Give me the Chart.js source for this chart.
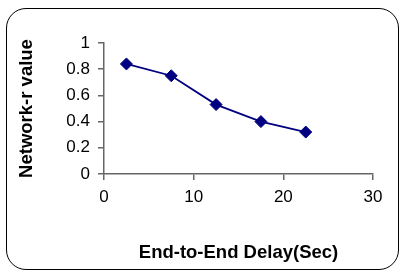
<!DOCTYPE html>
<html>
<head>
<meta charset="utf-8">
<script src="https://cdn.jsdelivr.net/npm/chart.js@4.4.1/dist/chart.umd.min.js"></script>
<style>
  html, body { margin: 0; padding: 0; background: #fff; }
  #wrap { position: relative; width: 401px; height: 273px; }
  #frame {
    position: absolute; left: 6px; top: 8px; width: 393px; height: 262px;
    border: 1.5px solid #000; border-radius: 20px; box-sizing: border-box;
  }
  #chart { position: absolute; left: 0; top: 0; }
</style>
</head>
<body>
<div id="wrap">
  <div id="frame"></div>
  <canvas id="chart" width="401" height="273"></canvas>
</div>
<script>
// values
const delay = [2.5, 7.5, 12.5, 17.5, 22.5];
const networkR = [0.84, 0.75, 0.53, 0.40, 0.32];
const xTickLabels = ['0', '10', '20', '30'];
const yTickLabels = ['0', '0.2', '0.4', '0.6', '0.8', '1'];

const axisGrey = '#666666';
const tickFont = { family: 'Liberation Sans, Arial, sans-serif', size: 17 };
const titleFont = { family: 'Liberation Sans, Arial, sans-serif', size: 18.5, weight: 'bold' };

new Chart(document.getElementById('chart'), {
    type: 'scatter',
    data: {
        datasets: [{
            label: 'Network-r',
            data: delay.map((d, i) => ({ x: d, y: networkR[i] })),
            showLine: true,
            borderColor: '#000080',
            backgroundColor: '#000080',
            borderWidth: 1.8,
            pointStyle: 'rectRot',
            pointRadius: 6,
            pointHoverRadius: 6,
            pointBorderWidth: 1
        }]
    },
    options: {
        responsive: false,
        animation: false,
        layout: { padding: { left: 0, top: 43, right: 28, bottom: 0 } },
        plugins: { legend: { display: false }, tooltip: { enabled: false } },
        scales: {
            x: {
                type: 'linear',
                min: 0,
                max: 30,
                afterFit: (scale) => { scale.height = 99; },
                border: { display: true, color: axisGrey, width: 1.5 },
                grid: { drawOnChartArea: false, drawTicks: true, tickLength: 6, color: axisGrey, lineWidth: 1.5 },
                ticks: {
                    stepSize: 10,
                    padding: 7,
                    color: '#000',
                    font: tickFont,
                    maxRotation: 0,
                    callback: (value) => xTickLabels[value / 10]
                },
                title: {
                    display: true,
                    text: 'End-to-End Delay(Sec)',
                    color: '#000',
                    font: titleFont,
                    padding: { top: 0, bottom: 9 }
                }
            },
            y: {
                min: 0,
                max: 1,
                afterFit: (scale) => { scale.width = 104; },
                border: { display: true, color: axisGrey, width: 1.5 },
                grid: { drawOnChartArea: false, drawTicks: true, tickLength: 6, color: axisGrey, lineWidth: 1.5 },
                ticks: {
                    stepSize: 0.2,
                    padding: 8,
                    color: '#000',
                    font: tickFont,
                    callback: (value) => yTickLabels[Math.round(value * 5)]
                },
                title: {
                    display: true,
                    text: 'Network-r value',
                    color: '#000',
                    font: titleFont,
                    padding: { top: 16, bottom: 0 }
                }
            }
        }
    }
});
</script>
</body>
</html>
